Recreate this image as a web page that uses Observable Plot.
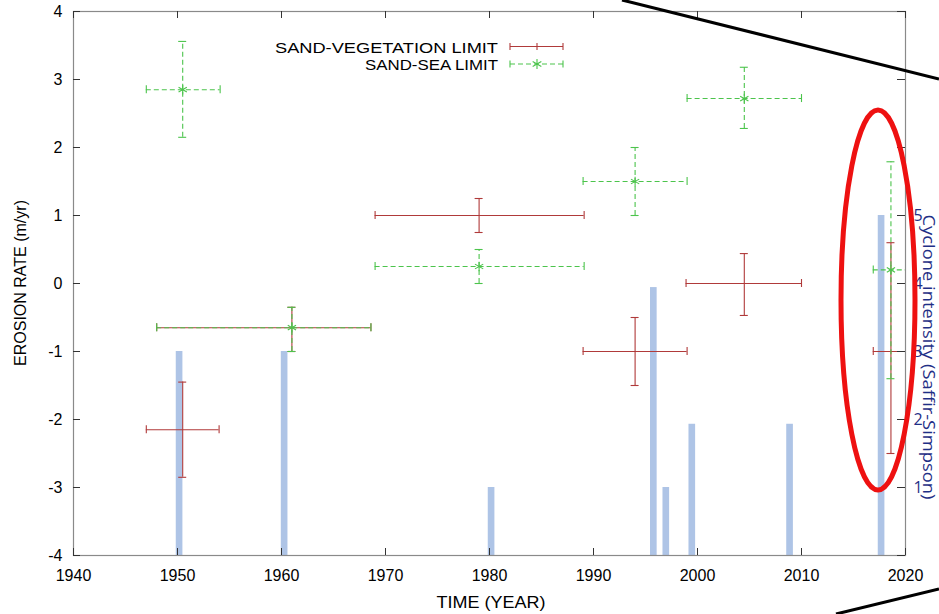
<!DOCTYPE html>
<html><head><meta charset="utf-8">
<script src="https://cdn.jsdelivr.net/npm/d3@7"></script>
<script src="https://cdn.jsdelivr.net/npm/@observablehq/plot@0.6"></script>
<style>
body{margin:0;background:#fff}
#wrap{position:relative;width:939px;height:614px;overflow:hidden}
</style>
</head><body><div id="wrap"></div>
<script>
// ---- data ----
const xTicks = [1940, 1950, 1960, 1970, 1980, 1990, 2000, 2010, 2020];
const yTicks = [-4, -3, -2, -1, 0, 1, 2, 3, 4];
const intensityTicks = [0, 1, 2, 3, 4, 5, 6, 7, 8];
const intensityLabels = ["", "1", "2", "3", "4", "5", "", "", ""];

const cycloneYear = [1950.2, 1960.3, 1980.2, 1995.8, 1997.0, 1999.5, 2008.9, 2017.7];
const cycloneIntensity = [3, 3, 1, 3.94, 1, 1.93, 1.93, 5];

const vegYear     = [1950.5, 1961.0, 1979.0, 1994.0, 2004.5, 2018.6];
const vegRate     = [-2.15, -0.65, 1.0, -1.0, 0.0, -1.0];
const vegYearFrom = [1947.0, 1948.0, 1969.0, 1989.0, 1998.9, 2016.9];
const vegYearTo   = [1954.0, 1968.6, 1989.1, 1999.0, 2010.0, 2020.5];
const vegRateLow  = [-2.85, -1.0, 0.75, -1.5, -0.47, -2.5];
const vegRateHigh = [-1.45, -0.35, 1.25, -0.5, 0.44, 0.6];

const seaYear     = [1950.5, 1961.0, 1979.0, 1994.0, 2004.5, 2018.6];
const seaRate     = [2.85, -0.65, 0.25, 1.5, 2.72, 0.2];
const seaYearFrom = [1947.0, 1948.0, 1969.0, 1989.0, 1999.0, 2016.9];
const seaYearTo   = [1954.1, 1968.6, 1989.1, 1999.0, 2010.0, 2020.5];
const seaRateLow  = [2.15, -1.0, 0.0, 1.0, 2.28, -1.4];
const seaRateHigh = [3.56, -0.35, 0.5, 2.0, 3.18, 1.79];

const seriesNames = ["SAND-VEGETATION LIMIT", "SAND-SEA LIMIT"];

// ---- build ----
const xDomain = [xTicks[0], xTicks[xTicks.length - 1]];
const yDomain = [yTicks[0], yTicks[yTicks.length - 1]];
const toRate = c => c + yDomain[0];

const cyc = cycloneYear.map((year, i) => ({year, intensity: cycloneIntensity[i]}));
const mk = (X, Y, X1, X2, Y1, Y2) => X.map((x, i) => ({x, y: Y[i], x1: X1[i], x2: X2[i], y1: Y1[i], y2: Y2[i]}));
const veg = mk(vegYear, vegRate, vegYearFrom, vegYearTo, vegRateLow, vegRateHigh);
const sea = mk(seaYear, seaRate, seaYearFrom, seaYearTo, seaRateLow, seaRateHigh);

const RED = "#b03a3a", GREEN = "#4cc44c", BAR = "#aec4e6", NAVY = "#1f2f86";
const CAP = -4;

function errMarks(data, color, dash) {
  const s = {stroke: color, strokeWidth: 1.1, clip: true};
  return [
    Plot.ruleY(data, {y: "y", x1: "x1", x2: "x2", ...s, strokeDasharray: dash}),
    Plot.ruleX(data, {x: "x", y1: "y1", y2: "y2", ...s, strokeDasharray: dash}),
    Plot.ruleX(data, {x: "x1", y1: "y", y2: "y", insetTop: CAP, insetBottom: CAP, ...s}),
    Plot.ruleX(data, {x: "x2", y1: "y", y2: "y", insetTop: CAP, insetBottom: CAP, ...s}),
    Plot.ruleY(data, {y: "y1", x1: "x", x2: "x", insetLeft: CAP, insetRight: CAP, ...s}),
    Plot.ruleY(data, {y: "y2", x1: "x", x2: "x", insetLeft: CAP, insetRight: CAP, ...s})
  ];
}

const TICKC = "#333";
const chart = Plot.plot({
  width: 939, height: 614,
  marginLeft: 73, marginRight: 34, marginTop: 11, marginBottom: 59,
  style: {fontFamily: "'Liberation Sans', Arial, sans-serif", background: "#fff", color: "#000", overflow: "visible"},
  x: {domain: xDomain},
  y: {domain: yDomain},
  marks: [
    Plot.rect(cyc, {x1: d => d.year - 0.32, x2: d => d.year + 0.32, y1: yDomain[0], y2: d => toRate(d.intensity), fill: BAR}),
    ...errMarks(veg, RED, null),
    ...errMarks(sea, GREEN, "5,3"),
    Plot.dot(sea, {x: "x", y: "y", symbol: "asterisk", r: 4.5, stroke: GREEN, strokeWidth: 1.1, clip: true}),
    Plot.frame({stroke: "#8a8a8a", strokeWidth: 1.2}),
    // inward ticks
    Plot.ruleX(xTicks, {x: d => d, y1: yDomain[0], y2: yDomain[0], insetTop: -7, stroke: TICKC}),
    Plot.ruleX(xTicks, {x: d => d, y1: yDomain[1], y2: yDomain[1], insetBottom: -7, stroke: TICKC}),
    Plot.ruleY(yTicks, {y: d => d, x1: xDomain[0], x2: xDomain[0], insetRight: -7, stroke: TICKC}),
    Plot.ruleY(intensityTicks, {y: d => toRate(d), x1: xDomain[1], x2: xDomain[1], insetLeft: -8, stroke: TICKC}),
    Plot.axisX({ticks: xTicks, tickSize: 0, tickPadding: 14, tickFormat: d => String(d), label: null, fontSize: 16}),
    Plot.axisY({ticks: yTicks, tickSize: 0, tickPadding: 11, tickFormat: d => String(d), label: null, fontSize: 16}),
    Plot.axisY({anchor: "right", ticks: intensityTicks.map(toRate), tickSize: 0, tickPadding: 8,
      tickFormat: d => intensityLabels[intensityTicks.indexOf(d - yDomain[0])], label: null, fontSize: 16,
      fill: NAVY, fontFamily: "'Open Sans', sans-serif"})
  ]
});

document.getElementById("wrap").appendChild(chart);
const svg = d3.select(chart);

// axis titles
svg.append("text").attr("transform", "translate(20,283) rotate(-90)")
  .attr("text-anchor", "middle").attr("dominant-baseline", "central")
  .attr("font-size", 16).attr("font-family", "'Liberation Sans', Arial, sans-serif")
  .text("EROSION RATE (m/yr)");
svg.append("text").attr("x", 491).attr("y", 602)
  .attr("text-anchor", "middle").attr("dominant-baseline", "central")
  .attr("font-size", 17).attr("font-family", "'Liberation Sans', Arial, sans-serif")
  .attr("textLength", 109).attr("lengthAdjust", "spacingAndGlyphs")
  .text("TIME (YEAR)");
svg.append("text").attr("transform", "translate(929,357) rotate(90)")
  .attr("text-anchor", "middle").attr("dominant-baseline", "central")
  .attr("font-size", 16).attr("font-family", "'Open Sans', sans-serif").attr("fill", NAVY)
  .attr("textLength", 285).attr("lengthAdjust", "spacingAndGlyphs")
  .text("Cyclone intensity (Saffir-Simpson)");

// legend
const lg = svg.append("g");
const rows = [{name: seriesNames[0], y: 46.5, color: RED, dash: null, len: 223},
              {name: seriesNames[1], y: 64, color: GREEN, dash: "5,3", len: 133}];
rows.forEach(r => {
  lg.append("text").attr("x", 498).attr("y", r.y + 1).attr("text-anchor", "end")
    .attr("dominant-baseline", "central").attr("font-size", 14.5)
    .attr("font-family", "'Liberation Sans', Arial, sans-serif")
    .attr("textLength", r.len).attr("lengthAdjust", "spacingAndGlyphs").text(r.name);
  lg.append("line").attr("x1", 510).attr("x2", 563).attr("y1", r.y).attr("y2", r.y)
    .attr("stroke", r.color).attr("stroke-width", 1.1).attr("stroke-dasharray", r.dash);
  [510, 563].forEach(x => lg.append("line").attr("x1", x).attr("x2", x).attr("y1", r.y - 3.5).attr("y2", r.y + 3.5)
    .attr("stroke", r.color).attr("stroke-width", 1.1));
  if (r.dash) {
    lg.append("path").attr("d", d3.symbol(d3.symbolAsterisk, 70)()).attr("transform", `translate(537,${r.y})`)
      .attr("fill", "none").attr("stroke", r.color).attr("stroke-width", 1.1);
  } else {
    lg.append("line").attr("x1", 537).attr("x2", 537).attr("y1", r.y - 3.5).attr("y2", r.y + 3.5)
      .attr("stroke", r.color).attr("stroke-width", 1.1);
  }
});

// decorative annotation (zoom connector lines and highlight ellipse)
const ov = svg.append("g");
ov.append("line").attr("x1", 622).attr("y1", 0).attr("x2", 939).attr("y2", 79)
  .attr("stroke", "#000").attr("stroke-width", 3);
ov.append("line").attr("x1", 836).attr("y1", 614).attr("x2", 939).attr("y2", 589)
  .attr("stroke", "#000").attr("stroke-width", 3);
ov.append("ellipse").attr("cx", 878).attr("cy", 300).attr("rx", 37).attr("ry", 190)
  .attr("fill", "none").attr("stroke", "#ee1111").attr("stroke-width", 5);
</script>
</body></html>
